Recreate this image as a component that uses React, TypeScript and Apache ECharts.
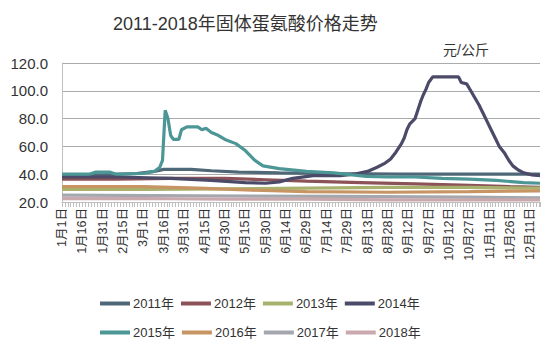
import React, { useEffect, useRef } from "react";
import * as echarts from "echarts";

const title = "2011-2018年固体蛋氨酸价格走势";
const unit = "元/公斤";
const xLabels = [
  "1月1日", "1月16日", "1月31日", "2月15日", "3月1日", "3月16日", "3月31日", "4月15日",
  "4月30日", "5月15日", "5月30日", "6月14日", "6月29日", "7月14日", "7月29日", "8月13日",
  "8月28日", "9月12日", "9月27日", "10月12日", "10月27日", "11月11日", "11月26日", "12月11日",
];
const yTicks = [20, 40, 60, 80, 100, 120];
const seriesNames = ["2011年", "2012年", "2013年", "2014年", "2015年", "2016年", "2017年", "2018年"];
const seriesColors = ["#4F6878", "#8B5257", "#A8B26E", "#4B4A68", "#4C9696", "#C79463", "#A4A7AD", "#C9A9AD"];

// [day of year, price]
const s2011 = [[0, 39.5], [30, 39.5], [55, 40.5], [68, 42], [75, 43.5], [95, 43.5], [110, 42.5], [130, 41.5], [160, 41], [200, 40.5], [250, 40], [300, 40], [352, 40]];
const s2012 = [[0, 36.5], [40, 36.5], [80, 37], [120, 37], [150, 36], [180, 35], [220, 34], [260, 33], [300, 32], [330, 31], [352, 30.5]];
const s2013 = [[0, 29], [60, 29], [120, 29.5], [180, 30], [240, 30.5], [300, 30.5], [352, 30]];
const s2014 = [[0, 38], [40, 38], [80, 37], [110, 35.5], [135, 34], [150, 33.5], [160, 34.5], [170, 37], [185, 39], [205, 39], [215, 40], [225, 42], [232, 45], [238, 48], [242, 51], [246, 56], [250, 62], [252, 66], [254, 72], [256, 76], [260, 80], [262, 86], [264, 92], [266, 97], [268, 101], [270, 106], [273, 110], [292, 110], [294, 106], [298, 105], [301, 100], [304, 95], [307, 90], [310, 84], [313, 78], [316, 72], [319, 66], [322, 60], [326, 55], [329, 50], [332, 46], [336, 43], [340, 41], [346, 39.5], [352, 39]];
const s2015 = [[0, 40], [20, 40], [25, 41.5], [35, 41.5], [40, 40], [60, 40.5], [68, 42], [72, 45], [74, 50], [76, 86], [78, 80], [80, 68], [82, 65], [86, 65], [88, 72], [92, 74], [100, 74], [103, 72], [106, 73], [110, 70], [115, 68], [120, 65], [128, 62], [135, 57], [142, 50], [148, 46], [160, 44], [180, 42], [200, 41], [224, 38.5], [240, 38], [260, 38], [280, 37], [300, 36.5], [320, 35.5], [340, 34], [352, 33.5]];
const s2016 = [[0, 31], [60, 31], [100, 30], [140, 28.5], [180, 27.5], [240, 27], [300, 27.5], [352, 28]];
const s2017 = [[0, 25], [100, 24.5], [200, 24], [300, 23.5], [352, 23]];
const s2018 = [[0, 22.5], [60, 22.5], [120, 22], [180, 22], [240, 21.5], [300, 21.5], [352, 21.5]];

const allData = [s2011, s2012, s2013, s2014, s2015, s2016, s2017, s2018];

export default function App() {
  const ref = useRef<HTMLDivElement>(null);
  useEffect(() => {
    if (!ref.current) return;
    const chart = echarts.init(ref.current, null, { renderer: "svg" });
    const font = "'Liberation Sans', 'Noto Sans CJK SC', sans-serif";
    const legendText = { fontFamily: font, fontSize: 13, color: "#333333", padding: [0, 0, 0, -2] };
    chart.setOption({
      animation: false,
      backgroundColor: "#ffffff",
      title: [
        { text: title, left: 108, top: 10, textStyle: { fontFamily: font, fontSize: 18, fontWeight: "normal", color: "#333333" } },
        { text: unit, left: 438, top: 38, textStyle: { fontFamily: font, fontSize: 14, fontWeight: "normal", color: "#333333" } },
      ],
      legend: [
        { data: seriesNames.slice(0, 4), left: 95, top: 292, icon: "rect", itemWidth: 30, itemHeight: 4, itemGap: 7, textStyle: legendText },
        { data: seriesNames.slice(4), left: 95, top: 321, icon: "rect", itemWidth: 30, itemHeight: 4, itemGap: 7, textStyle: legendText },
      ],
      grid: { left: 62, right: 18, top: 63, bottom: 153, containLabel: false },
      xAxis: {
        type: "value", min: 0, max: 352, interval: 15,
        axisLine: { show: true, lineStyle: { color: "#BFBFBF" } },
        axisTick: { show: true, length: 5, lineStyle: { color: "#BFBFBF" } },
        minorTick: { show: true, splitNumber: 7, length: 5, lineStyle: { color: "#BFBFBF" } },
        splitLine: { show: false },
        axisLabel: {
          rotate: 90, fontFamily: font, fontSize: 12.5, color: "#333333", margin: 6, showMaxLabel: false,
          formatter: (v: number) => { const i = Math.round(v / 15); return xLabels[i] ?? ""; },
        },
      },
      yAxis: {
        type: "value", min: yTicks[0], max: yTicks[yTicks.length - 1], interval: 20,
        axisLine: { show: true, lineStyle: { color: "#BFBFBF" } },
        axisTick: { show: false },
        splitLine: { lineStyle: { color: "#ABABAB", width: 1 } },
        axisLabel: { fontFamily: font, fontSize: 15, color: "#333333", margin: 14, formatter: (v: number) => v.toFixed(1) },
      },
      series: seriesNames.map((name, i) => ({
        name, type: "line", data: allData[i], showSymbol: false, symbol: "none",
        lineStyle: { width: 3.2, color: seriesColors[i] }, itemStyle: { color: seriesColors[i] },
        z: i === 3 || i === 4 ? 3 : 2,
      })),
    });
    return () => chart.dispose();
  }, []);
  return <div ref={ref} style={{ position: "fixed", left: 0, top: 0, width: 558, height: 355 }} />;
}
